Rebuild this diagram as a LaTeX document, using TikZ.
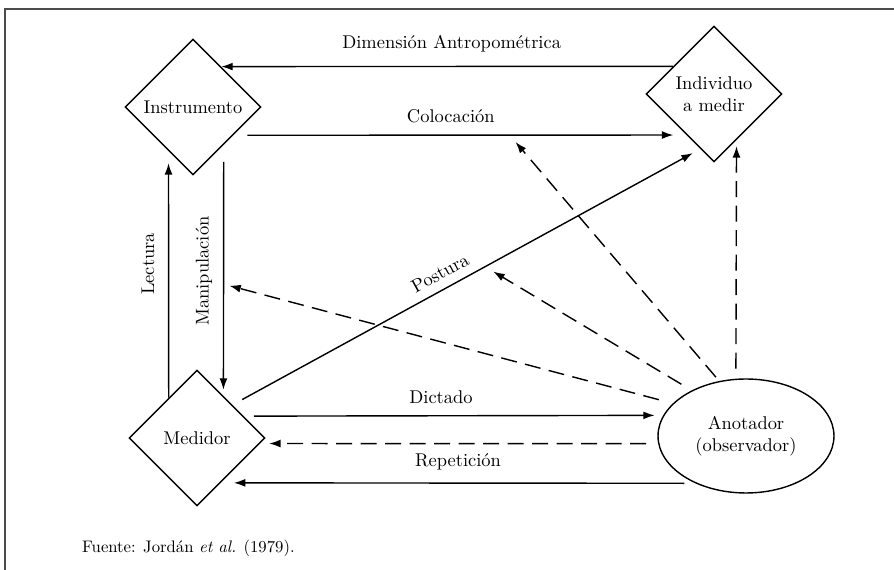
\documentclass[tikz,border=0pt]{standalone}
\usepackage{tikz}
\usetikzlibrary{arrows.meta,shapes.geometric}

\begin{document}
\begin{tikzpicture}[x=0.02cm, y=-0.02cm, font=\fontsize{10.5}{12.5}\selectfont]
% Node styles ---
\tikzstyle{diam} = [diamond, line width=0.8pt, draw=black, minimum width=2.72cm, minimum height=2.72cm, inner sep=0pt, align=center] % Actors / objects
\tikzstyle{elli} = [ellipse, line width=0.8pt, draw=black, minimum width=3.52cm, minimum height=2.28cm, inner sep=0pt, align=center] % Observer
% Edge styles
\tikzstyle{con} = [-{Latex[length=6.5pt, width=4.5pt]}, line width=0.8pt] % Actions
\tikzstyle{das} = [-{Latex[length=6.5pt, width=4.5pt]}, line width=0.8pt, dash pattern=on 0.32cm off 0.17cm] % Control by the observer
\tikzstyle{lab} = [above=0.12cm] % Labels on the arrows
% Begin Figure ---
\useasboundingbox (0,0) rectangle (894,570);
\draw [line width=1pt, black!70] (5,570) -- (5,9) -- (894,9);
% Nodes
\node at (193,107) [diam] (ins) {Instrumento};
\node at (714,94) [diam] (ind) {Individuo\\a medir};
\node at (197,438) [diam] (med) {Medidor};
\node at (746,436) [elli] (ano) {Anotador\\(observador)};
% Paths
\draw [con] (ind.146.6) -- node [above=0.15cm, pos=0.49] (dim) {Dimensión Antropométrica} (ins.55);
\draw [con, shorten <=0.28cm, shorten >=0.26cm] (ins.-35) -- node [lab, pos=0.48] (clc) {Colocación} coordinate [pos=0.61] (col) (ind.236.6);
\draw [con, shorten >=0.24cm] (med.125) -- (ins.241.4);
\node at (148,264) [rotate=90] (lec) {Lectura};
\draw [con, shorten <=0.34cm, shorten >=0.12cm] (ins.-51.7) -- coordinate [pos=0.555] (man) (med.58.2);
\node at (204,271) [rotate=90] (mnp) {Manipulación};
\draw [con, shorten <=0.22cm, shorten >=0.17cm] (med.43.6) -- node [sloped, above=0.06cm, pos=0.46] (pst) {Postura} coordinate [pos=0.54] (post) (ind.256.6);
\draw [con, shorten <=0.2cm, shorten >=0.17cm] (med.25.6) -- node [lab, pos=0.47] (dic) {Dictado} (ano.166.4);
\draw [con, shorten <=0.22cm, shorten >=0.26cm] (ano.223.3) -- node [lab, pos=0.5] (rep) {Repetición} (med.-62.9);
% observer checks
\draw [das, shorten <=0.24cm, shorten >=0.18cm] (ano.185.25) -- (med.-5.5);
\draw [das, shorten <=0.29cm, shorten >=0.12cm] (ano.156.2) -- (man);
\draw [das, shorten <=0.24cm, shorten >=0.19cm] (ano.140) -- (post);
\draw [das, shorten <=0.1cm, shorten >=0.18cm] (ano.116.2) -- (col);
\draw [das, shorten <=0.2cm, shorten >=0.12cm] (ano.100) -- (ind.-64.4);
% Source
\node at (76,548) [anchor=west, font=\fontsize{9.5}{11}\selectfont] (src) {Fuente: Jordán \textit{et al.} (1979).};
\end{tikzpicture}
\end{document}
